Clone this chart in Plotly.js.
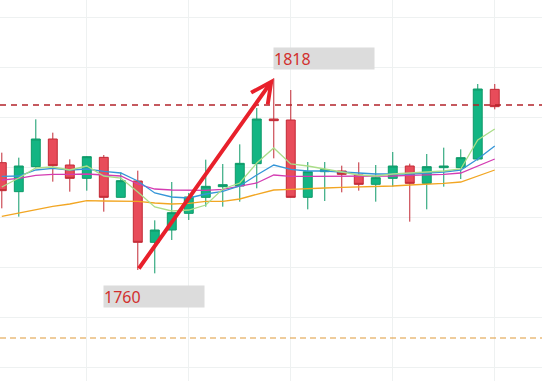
<!DOCTYPE html>
<html>
<head>
<meta charset="utf-8">
<script src="https://cdn.plot.ly/plotly-3.0.1.min.js"></script>
<style>html,body{margin:0;padding:0;background:#fff;}#chart{width:542px;height:381px;}</style>
</head>
<body>
<div id="chart"></div>
<script>
// candle index (categories)
var idx = [0,1,2,3,4,5,6,7,8,9,10,11,12,13,14,15,16,17,18,19,20,21,22,23,24,25,26,27,28,29];
var openV  = [1792.3,1783.6,1791.1,1799.4,1791.6,1787.6,1793.9,1781.9,1786.8,1768.4,1772.1,1777.1,1781.9,1785.1,1785.3,1792.0,1805.4,1805.1,1781.9,1789.6,1789.8,1788.6,1785.8,1787.6,1791.3,1786.1,1790.8,1790.8,1793.4,1814.3];
var highV  = [1795.3,1793.8,1805.3,1801.3,1793.3,1794.3,1794.6,1789.4,1789.9,1775.0,1786.5,1783.2,1793.2,1791.9,1797.8,1808.7,1817.6,1814.1,1792.5,1792.5,1791.4,1792.4,1791.6,1795.5,1792.0,1794.9,1796.8,1796.3,1815.9,1815.9];
var lowV   = [1778.6,1776.1,1790.7,1786.6,1783.6,1783.9,1777.6,1781.8,1760.1,1759.1,1769.1,1775.1,1779.1,1779.1,1780.6,1784.6,1793.6,1781.8,1778.3,1780.8,1783.4,1783.9,1780.6,1785.1,1774.6,1778.3,1785.1,1787.4,1792.9,1808.3];
var closeV = [1783.9,1791.3,1799.4,1791.4,1787.6,1794.1,1781.9,1786.9,1768.4,1772.1,1777.3,1782.0,1785.2,1785.7,1792.1,1805.4,1804.9,1781.9,1789.6,1790.2,1788.8,1785.8,1787.8,1791.3,1786.1,1791.1,1791.3,1793.8,1814.4,1809.1];
// moving averages
var ma5  = [1785.0,1787.7,1790.7,1791.0,1790.1,1791.3,1788.3,1787.7,1783.5,1779.0,1777.8,1778.1,1779.6,1784.4,1786.2,1792.2,1796.7,1791.9,1791.3,1790.4,1789.5,1788.6,1788.3,1788.9,1789.2,1789.5,1789.8,1790.4,1799.1,1802.4];
var ma10 = [1788.2,1788.3,1790.1,1790.6,1790.1,1790.4,1789.7,1789.2,1786.8,1783.2,1782.0,1781.7,1782.9,1783.7,1785.3,1788.6,1791.6,1790.3,1789.8,1789.8,1789.5,1789.2,1788.9,1788.9,1788.9,1789.2,1789.5,1790.1,1793.4,1797.3];
var ma20 = [1787.1,1787.6,1788.5,1788.8,1788.8,1788.9,1788.6,1788.3,1785.9,1784.4,1784.1,1784.0,1784.0,1784.3,1785.2,1786.2,1788.6,1788.2,1788.2,1788.2,1788.2,1788.1,1788.2,1788.3,1788.5,1788.6,1788.8,1789.2,1791.3,1793.4];
var ma60 = [1776.2,1777.2,1778.4,1779.2,1779.9,1780.9,1780.8,1780.8,1780.7,1780.2,1779.9,1780.1,1780.7,1780.7,1781.4,1782.8,1784.1,1784.3,1784.6,1784.7,1784.9,1785.0,1785.2,1785.3,1785.6,1785.8,1786.1,1786.5,1788.3,1790.1];
var resistanceLevel = 1809.6;
var supportLevel = 1739.7;
var swingLowIdx = 8;
var swingHighIdx = 16;

var traces = [
  {
    type: 'candlestick', x: idx, open: openV, high: highV, low: lowV, close: closeV,
    increasing: {line: {color: '#0e9a68', width: 1}, fillcolor: '#13b583'},
    decreasing: {line: {color: '#c22a35', width: 1}, fillcolor: '#e84c5a'},
    whiskerwidth: 0, hoverinfo: 'none', showlegend: false
  },
  {type:'scatter', mode:'lines', x: idx, y: ma60, line:{color:'#f2a623', width:1.3}, hoverinfo:'none', showlegend:false},
  {type:'scatter', mode:'lines', x: idx, y: ma20, line:{color:'#d43cb2', width:1.3}, hoverinfo:'none', showlegend:false},
  {type:'scatter', mode:'lines', x: idx, y: ma10, line:{color:'#3596d8', width:1.3}, hoverinfo:'none', showlegend:false},
  {type:'scatter', mode:'lines', x: idx, y: ma5,  line:{color:'#aadd88', width:1.3}, hoverinfo:'none', showlegend:false}
];

var layout = {
  width: 542, height: 381,
  margin: {l:0, r:0, t:0, b:0},
  paper_bgcolor: '#ffffff', plot_bgcolor: '#ffffff',
  showlegend: false,
  boxgap: 0.25,
  xaxis: {range: [-0.106, 31.78], showgrid: true, gridcolor: '#eef1f1', gridwidth: 1,
          tick0: 5, dtick: 6, showticklabels: false, zeroline: false, showline: false,
          rangeslider: {visible: false}, fixedrange: true, ticks: ''},
  yaxis: {range: [1726.8, 1841.1], showgrid: true, gridcolor: '#eef1f1', gridwidth: 1,
          tick0: 1761, dtick: 15, showticklabels: false, zeroline: false, showline: false, ticks: ''},
  shapes: [
    {type:'line', xref:'paper', x0:0, x1:1, yref:'y', y0:resistanceLevel, y1:resistanceLevel,
     line:{color:'#b3232a', width:1.3, dash:'6px,5px'}},
    {type:'line', xref:'paper', x0:0, x1:1, yref:'y', y0:supportLevel, y1:supportLevel,
     line:{color:'#e09a38', width:1.2, dash:'6px,4px'}}
  ],
  annotations: [
    {x: swingHighIdx, y: highV[swingHighIdx], xref:'x', yref:'y',
     ax: swingLowIdx, ay: lowV[swingLowIdx], axref:'x', ayref:'y',
     text:'', showarrow:true, arrowhead:5, arrowsize:1, arrowwidth:4, arrowcolor:'#e8202b', standoff:0},
    {x: swingHighIdx, y: highV[swingHighIdx], xref:'x', yref:'y', showarrow:false,
     text: String(Math.round(highV[swingHighIdx])), xanchor:'left', yanchor:'middle', xshift:-1, yshift:19.5,
     width:100, height:21, align:'left', bgcolor:'#dcdcdc', borderpad:0,
     font:{family:'Noto Sans, Roboto, sans-serif', size:16, color:'#d2302e'}},
    {x: swingLowIdx, y: lowV[swingLowIdx], xref:'x', yref:'y', showarrow:false,
     text: String(Math.round(lowV[swingLowIdx])), xanchor:'left', yanchor:'middle', xshift:-35, yshift:-26.7,
     width:100, height:21, align:'left', bgcolor:'#dcdcdc', borderpad:0,
     font:{family:'Noto Sans, Roboto, sans-serif', size:16, color:'#d2302e'}}
  ]
};

Plotly.newPlot('chart', traces, layout, {staticPlot: true, displayModeBar: false});
</script>
</body>
</html>
